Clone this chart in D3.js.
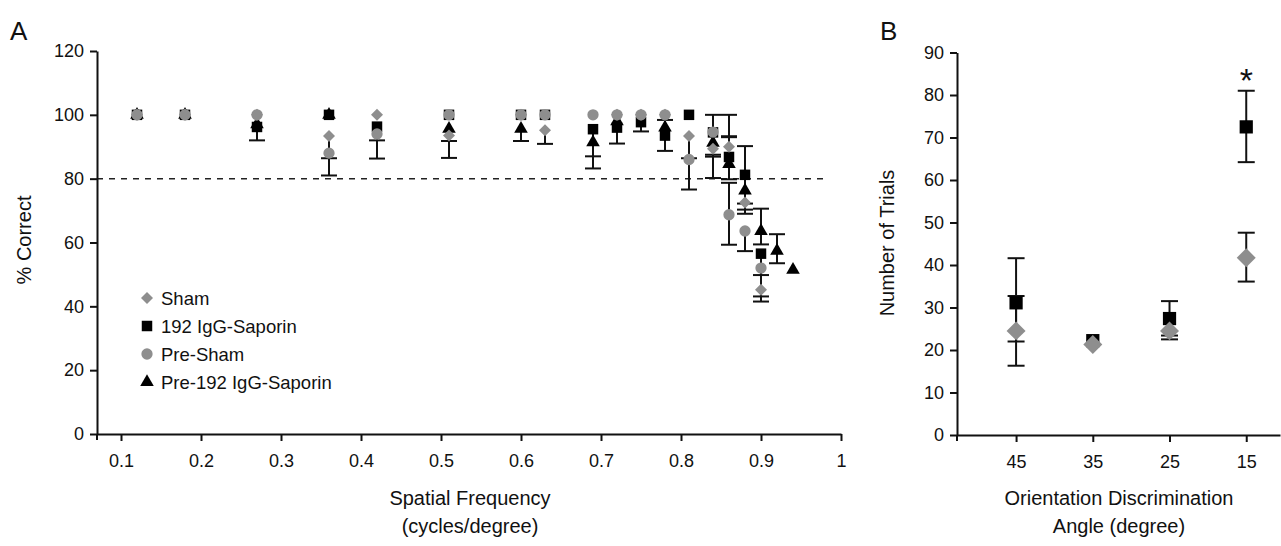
<!DOCTYPE html>
<html>
<head>
<meta charset="utf-8">
<script src="https://cdn.jsdelivr.net/npm/d3@7"></script>
<style>
  body { margin: 0; background: #fff; }
  text { font-family: "Liberation Sans", Arial, sans-serif; fill: #111; }
</style>
</head>
<body>
<svg id="chart" width="1281" height="546"></svg>
<script>
// ---- Panel A: % correct vs spatial frequency ----
const shamX   = [0.12, 0.18, 0.27, 0.36, 0.42, 0.51, 0.60, 0.63, 0.72, 0.75, 0.78, 0.81, 0.84, 0.86, 0.88, 0.90];
const shamY   = [100, 100, 100, 93.4, 100, 93.5, 100, 95.2, 100, 100, 100, 93.4, 89.4, 90, 72.5, 45.2];
const shamLo  = [0, 0, 0, 7, 0, 7, 0, 4.3, 0, 0, 0, 7, 2.5, 0, 3.5, 2.1];
const shamHi  = [0, 0, 0, 0, 0, 0, 0, 0, 0, 0, 0, 0, 0, 3, 0, 0];

const sapX    = [0.12, 0.18, 0.27, 0.36, 0.42, 0.51, 0.60, 0.63, 0.69, 0.72, 0.75, 0.78, 0.81, 0.84, 0.86, 0.88, 0.90];
const sapY    = [100, 100, 96.2, 100, 96.3, 100, 100, 100, 95.5, 96, 97.7, 93.5, 100, 94.5, 86.8, 81.2, 56.5];
const sapLo   = [0, 0, 4.2, 0, 4.3, 0, 0, 0, 8.5, 5, 2.9, 4.8, 0, 7, 7, 9, 15];
const sapHi   = [0, 0, 0, 0, 0, 0, 0, 0, 0, 0, 0, 0, 0, 0, 6.5, 9, 0];

const preShamX  = [0.12, 0.18, 0.27, 0.36, 0.42, 0.51, 0.60, 0.63, 0.69, 0.72, 0.75, 0.78, 0.81, 0.84, 0.86, 0.88, 0.90];
const preShamY  = [100, 100, 100, 88, 94, 100, 100, 100, 100, 100, 100, 100, 86, 94.6, 68.7, 63.6, 52];
const preShamLo = [0, 0, 0, 7, 7.7, 0, 0, 0, 0, 0, 0, 0, 9.4, 0, 9.4, 6.3, 2.2];
const preShamHi = [0, 0, 0, 0, 0, 0, 0, 0, 0, 0, 0, 0, 0, 0, 10, 0, 0];

const preSapX  = [0.12, 0.18, 0.27, 0.36, 0.51, 0.60, 0.69, 0.72, 0.78, 0.84, 0.86, 0.88, 0.90, 0.92, 0.94];
const preSapY  = [100, 100, 97, 100, 95.6, 95.6, 91.4, 98, 96, 91.2, 84.6, 76.3, 63.6, 57.4, 51.4];
const preSapLo = [0, 0, 0, 0, 3.8, 3.8, 8.2, 0, 0, 11, 0, 6, 4.2, 3.9, 0];
const preSapHi = [0, 0, 0, 0, 0, 0, 0, 0, 2.4, 8.8, 15.4, 0, 7, 5.2, 0];

const freqTicks = [0.1, 0.2, 0.3, 0.4, 0.5, 0.6, 0.7, 0.8, 0.9, 1];
const pctTicks  = [0, 20, 40, 60, 80, 100, 120];
const criterion = 80;

// ---- Panel B: trials to criterion vs orientation angle ----
const angles     = ["45", "35", "25", "15"];
const bShamY     = [24.5, 21.3, 24.5, 41.7];
const bShamLo    = [8.2, 0, 2, 5.6];
const bShamHi    = [8.2, 0, 0, 5.9];
const bSapY      = [31.1, 22.2, 27.4, 72.5];
const bSapLo     = [9.1, 0, 4, 8.3];
const bSapHi     = [10.5, 0, 4.1, 8.5];
const trialTicks = [0, 10, 20, 30, 40, 50, 60, 70, 80, 90];
const starAt     = { index: 3, value: 84.5 };

const GRAY = "#8e8e8e";
const svg = d3.select("#chart");

function zipSeries(xs, ys, lo, hi) {
  return xs.map((x, i) => ({ x, y: ys[i], lo: lo[i], hi: hi[i] }));
}

// diamond = rotated square, looks closer to the original than d3.symbolDiamond
function drawMarkers(g, data, type, size, color, xs, ys) {
  const sym = d3.symbol().type(type === "diamond" ? d3.symbolSquare : type).size(size);
  g.selectAll(null).data(data).enter().append("path")
    .attr("d", sym)
    .attr("fill", color)
    .attr("transform", d => `translate(${xs(d.x)},${ys(d.y)})` + (type === "diamond" ? " rotate(45)" : ""));
}

function drawErrors(g, data, xs, ys, capW) {
  const withErr = data.filter(d => d.lo > 0 || d.hi > 0);
  const eg = g.append("g").attr("stroke", "#111").attr("stroke-width", 2);
  withErr.forEach(d => {
    const cx = xs(d.x);
    const y0 = ys(d.y - d.lo), y1 = ys(d.y + d.hi);
    eg.append("line").attr("x1", cx).attr("x2", cx).attr("y1", y0).attr("y2", y1);
    if (d.lo > 0) eg.append("line").attr("x1", cx - capW / 2).attr("x2", cx + capW / 2).attr("y1", y0).attr("y2", y0);
    if (d.hi > 0) eg.append("line").attr("x1", cx - capW / 2).attr("x2", cx + capW / 2).attr("y1", y1).attr("y2", y1);
  });
}

function styleAxis(g) {
  g.selectAll("path").attr("stroke", "#111").attr("stroke-width", 2);
  g.selectAll("line").attr("stroke", "#111").attr("stroke-width", 2);
  g.selectAll("text").style("font-size", "18px").attr("fill", "#111");
}

// ================= Panel A =================
const xA = d3.scaleLinear().domain([0.07, 1]).range([97, 841]);
const yA = d3.scaleLinear().domain([0, 120]).range([434, 51]);
const gA = svg.append("g");

gA.append("text").attr("x", 10).attr("y", 40).style("font-size", "26px").text("A");

gA.append("line")
  .attr("x1", xA(0.07)).attr("x2", xA(0.985))
  .attr("y1", yA(criterion)).attr("y2", yA(criterion))
  .attr("stroke", "#222").attr("stroke-width", 1.5).attr("stroke-dasharray", "6,6");

const axAx = gA.append("g").attr("transform", `translate(0,${yA(0)})`)
  .call(d3.axisBottom(xA).tickValues(freqTicks).tickFormat(d3.format("")).tickSize(7).tickPadding(13).tickSizeOuter(0));
styleAxis(axAx);
const axAy = gA.append("g").attr("transform", `translate(${xA(0.07)},0)`)
  .call(d3.axisLeft(yA).tickValues(pctTicks).tickSize(7).tickPadding(6).tickSizeOuter(0));
styleAxis(axAy);
gA.append("line").attr("x1", xA(0.07)).attr("x2", xA(0.07)).attr("y1", yA(0)).attr("y2", yA(0) + 6)
  .attr("stroke", "#111").attr("stroke-width", 2);

gA.append("text").attr("transform", "translate(31,240) rotate(-90)").attr("text-anchor", "middle")
  .style("font-size", "20px").text("% Correct");
gA.append("text").attr("x", 470).attr("y", 505).attr("text-anchor", "middle").style("font-size", "20px").text("Spatial Frequency");
gA.append("text").attr("x", 470).attr("y", 533).attr("text-anchor", "middle").style("font-size", "20px").text("(cycles/degree)");

const sham    = zipSeries(shamX, shamY, shamLo, shamHi);
const sap     = zipSeries(sapX, sapY, sapLo, sapHi);
const preSham = zipSeries(preShamX, preShamY, preShamLo, preShamHi);
const preSap  = zipSeries(preSapX, preSapY, preSapLo, preSapHi);

[preSap, sap, sham, preSham].forEach(s => drawErrors(gA, s, xA, yA, 16));
drawMarkers(gA, preSap, d3.symbolTriangle, 80, "#000", xA, yA);
drawMarkers(gA, sap, d3.symbolSquare, 110, "#000", xA, yA);
drawMarkers(gA, sham, "diamond", 72, GRAY, xA, yA);
drawMarkers(gA, preSham, d3.symbolCircle, 100, GRAY, xA, yA);

// legend
const legendItems = [
  { label: "Sham", type: "diamond", size: 72, color: GRAY },
  { label: "192 IgG-Saporin", type: d3.symbolSquare, size: 110, color: "#000" },
  { label: "Pre-Sham", type: d3.symbolCircle, size: 100, color: GRAY },
  { label: "Pre-192 IgG-Saporin", type: d3.symbolTriangle, size: 80, color: "#000" }
];
const leg = gA.append("g").attr("transform", "translate(147,298)");
legendItems.forEach((it, i) => {
  const row = leg.append("g").attr("transform", `translate(0,${i * 28})`);
  row.append("path")
    .attr("d", d3.symbol().type(it.type === "diamond" ? d3.symbolSquare : it.type).size(it.size))
    .attr("fill", it.color)
    .attr("transform", it.type === "diamond" ? "rotate(45)" : null);
  row.append("text").attr("x", 14).attr("y", 7).style("font-size", "18.5px").text(it.label);
});

// ================= Panel B =================
const xB = d3.scaleLinear().domain([-0.77, 3.44]).range([957, 1280]);
const yB = d3.scaleLinear().domain([0, 90]).range([435, 52.5]);
const gB = svg.append("g");

gB.append("text").attr("x", 880).attr("y", 40).style("font-size", "26px").text("B");

const axBx = gB.append("g").attr("transform", `translate(0,${yB(0)})`)
  .call(d3.axisBottom(xB).tickValues(d3.range(angles.length)).tickFormat(i => angles[i])
    .tickSize(7).tickPadding(13).tickSizeOuter(0));
styleAxis(axBx);
const axBy = gB.append("g").attr("transform", `translate(${xB(-0.77)},0)`)
  .call(d3.axisLeft(yB).tickValues(trialTicks).tickSize(7).tickPadding(6).tickSizeOuter(0));
styleAxis(axBy);
gB.append("line").attr("x1", xB(-0.77)).attr("x2", xB(-0.77)).attr("y1", yB(0)).attr("y2", yB(0) + 6)
  .attr("stroke", "#111").attr("stroke-width", 2);

gB.append("text").attr("transform", "translate(894,243) rotate(-90)").attr("text-anchor", "middle")
  .style("font-size", "20px").text("Number of Trials");
gB.append("text").attr("x", 1119).attr("y", 505).attr("text-anchor", "middle").style("font-size", "20px").text("Orientation Discrimination");
gB.append("text").attr("x", 1119).attr("y", 533).attr("text-anchor", "middle").style("font-size", "20px").text("Angle (degree)");

const bSham = angles.map((a, i) => ({ x: i, y: bShamY[i], lo: bShamLo[i], hi: bShamHi[i] }));
const bSap  = angles.map((a, i) => ({ x: i, y: bSapY[i], lo: bSapLo[i], hi: bSapHi[i] }));

drawErrors(gB, bSap, xB, yB, 17);
drawErrors(gB, bSham, xB, yB, 17);
drawMarkers(gB, bSap, d3.symbolSquare, 175, "#000", xB, yB);
drawMarkers(gB, bSham, "diamond", 180, GRAY, xB, yB);

gB.append("text").attr("x", xB(starAt.index)).attr("y", yB(starAt.value) + 16)
  .attr("text-anchor", "middle").style("font-size", "34px").text("*");
</script>
</body>
</html>
